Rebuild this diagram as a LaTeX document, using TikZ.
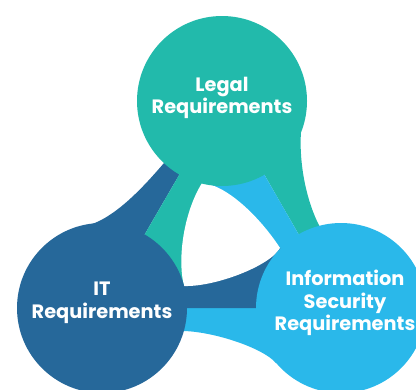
\documentclass[tikz,border=0pt]{standalone}
\usepackage{fontspec}
\setmainfont{Poppins}
\definecolor{LegalColor}{RGB}{34,186,171}
\definecolor{ITColor}{RGB}{38,104,154}
\definecolor{SecColor}{RGB}{42,184,234}
\usetikzlibrary{calc}
\tikzstyle{bubbletext} = [text=white, font=\bfseries\fontsize{14.5}{17}\selectfont, align=center]

\begin{document}
\begin{tikzpicture}[x=0.75pt, y=-0.75pt]
    \useasboundingbox (0,0) rectangle (416,389);
    \clip (0,0) rectangle (416,389);

    % Centres
    \coordinate (legal) at (222,101);
    \coordinate (it) at (102,308);
    \coordinate (sec) at (341,308);

    % Corners of the gap
    \coordinate (gapTop) at (202,183);
    \coordinate (gapRight) at (280,248);
    \coordinate (gapLeft) at (184,286);

    % Outer bands
    \fill[ITColor] (85,226) .. controls (114,220) and (145,185) .. (164,163) -- (legal) -- (it) -- cycle;
    \fill[LegalColor] (301,132) .. controls (299,160) and (305,200) .. (321,229) -- (sec) -- (legal) -- cycle;
    \fill[SecColor] (184,331) .. controls (215,332) and (263,348) .. (276,363) -- (sec) -- (it) -- cycle;

    % Inner bands
    \fill[LegalColor] (legal) -- (it) -- (gapLeft) -- (gapTop) -- cycle;
    \fill[SecColor] (sec) -- (legal) -- (gapTop) -- (gapRight) -- cycle;
    \fill[ITColor] (it) -- (sec) -- (gapRight) -- (gapLeft) -- cycle;

    % Gap
    \fill[white] (gapTop) .. controls (228,185) and (262,220) .. (gapRight)
        .. controls (270,266) and (215,287) .. (gapLeft)
        .. controls (177,258) and (184,212) .. (gapTop) -- cycle;

    % Circles
    \fill[LegalColor] (legal) circle (85);
    \fill[ITColor] (it) circle (85);
    \fill[SecColor] (sec) circle (85);

    % Labels
    \node[bubbletext] (legaltext) at (222,98) {Legal\\Requirements};
    \node[bubbletext] (ittext) at (102,303) {IT\\Requirements};
    \node[bubbletext] (sectext) at (345,303) {Information\\Security\\Requirements};
\end{tikzpicture}
\end{document}
